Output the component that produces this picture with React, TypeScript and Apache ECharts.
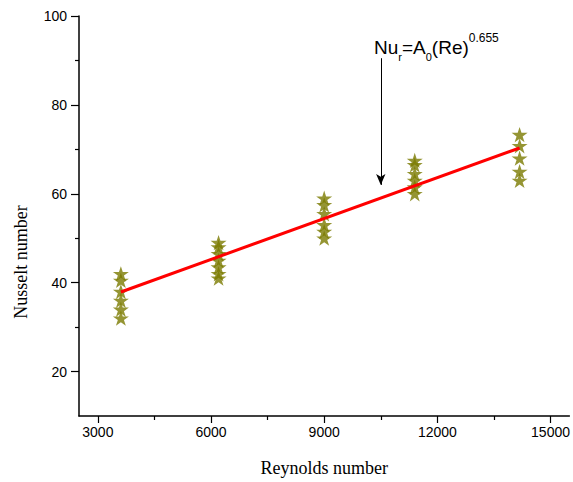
import React, { useEffect, useRef } from "react";
import * as echarts from "echarts";

// Reynolds number of each measurement group
const reynolds = [3610, 6200, 9000, 11400, 14180];

// Nusselt numbers measured at each Reynolds number
const nusseltGroups = [
  [42, 40.5, 38, 36, 34, 32],
  [49, 48, 46.5, 45, 43.5, 42, 41],
  [59, 57.5, 55.5, 53, 51.5, 50],
  [67.5, 66.5, 64.5, 63, 61.5, 60],
  [73.3, 70.8, 68, 65, 63],
];

// Correlation line end points
const fitLine: [number, number][] = [
  [3610, 37.9],
  [14180, 70.3],
];

// Arrow pointing from the correlation label to the line
const arrowFrom: [number, number] = [10500, 90.5];
const arrowTo: [number, number] = [10500, 62];

const xMajorTicks = [3000, 6000, 9000, 12000, 15000];
const xMinorTicks = [4500, 7500, 10500, 13500];
const yMajorTicks = [20, 40, 60, 80, 100];
const yMinorTicks = [30, 50, 70, 90];

const STAR =
  "path://M0,-100L22.5,-30.9L95.1,-30.9L36.3,11.8L58.8,80.9L0,38.2L-58.8,80.9L-36.3,11.8L-95.1,-30.9L-22.5,-30.9Z";

const sans = "'Liberation Sans', Arial, sans-serif";
const serif = "'Liberation Serif', 'Times New Roman', serif";

export default function App() {
  const ref = useRef<HTMLDivElement>(null);

  useEffect(() => {
    if (!ref.current) return;
    const chart = echarts.init(ref.current, undefined, { renderer: "svg" });

    const points: [number, number][] = [];
    reynolds.forEach((re, i) => {
      nusseltGroups[i].forEach((nu) => points.push([re, nu]));
    });

    const xRange = { min: 2500, max: 15500 };
    const yRange = { min: 10, max: 100 };
    const plain = (v: number) => String(v);

    chart.setOption({
      animation: false,
      backgroundColor: "#ffffff",
      grid: { left: 79, right: 2, top: 16, bottom: 65.5 },
      xAxis: [
        {
          type: "value",
          position: "bottom",
          ...xRange,
          name: "Reynolds number",
          nameLocation: "middle",
          nameGap: 43,
          nameTextStyle: { fontFamily: serif, fontSize: 18, color: "#000" },
          axisLine: { onZero: false, lineStyle: { color: "#000", width: 1.5 } },
          axisTick: { customValues: xMajorTicks, length: 7, lineStyle: { color: "#000", width: 1.2 } },
          axisLabel: {
            customValues: xMajorTicks,
            formatter: plain,
            margin: 9,
            fontFamily: sans,
            fontSize: 14,
            color: "#000",
          },
          splitLine: { show: false },
        },
        {
          type: "value",
          position: "bottom",
          ...xRange,
          axisLine: { show: false, onZero: false },
          axisTick: { customValues: xMinorTicks, length: 4, lineStyle: { color: "#000", width: 1.2 } },
          axisLabel: { show: false },
          splitLine: { show: false },
        },
      ],
      yAxis: [
        {
          type: "value",
          position: "left",
          ...yRange,
          axisLine: { show: true, onZero: false, lineStyle: { color: "#000", width: 1.5 } },
          axisTick: { show: true, customValues: yMajorTicks, length: 8, lineStyle: { color: "#000", width: 1.2 } },
          axisLabel: {
            customValues: yMajorTicks,
            formatter: plain,
            margin: 12,
            fontFamily: sans,
            fontSize: 14,
            color: "#000",
          },
          splitLine: { show: false },
        },
        {
          type: "value",
          position: "left",
          ...yRange,
          axisLine: { show: false, onZero: false },
          axisTick: { show: true, customValues: yMinorTicks, length: 4, lineStyle: { color: "#000", width: 1.2 } },
          axisLabel: { show: false },
          splitLine: { show: false },
        },
      ],
      graphic: [
        {
          type: "text",
          x: 21,
          y: 262,
          rotation: Math.PI / 2,
          style: {
            text: "Nusselt number",
            fontFamily: serif,
            fontSize: 18,
            fill: "#000",
            align: "center",
            verticalAlign: "middle",
          },
        },
        {
          type: "text",
          x: 374,
          y: 32,
          style: {
            text: "{m|Nu}{s|r}{m|=A}{s|0}{m|(Re)}{p|0.655}",
            rich: {
              m: { fontFamily: sans, fontSize: 19, lineHeight: 30, verticalAlign: "middle", fill: "#000" },
              s: { fontFamily: sans, fontSize: 11, lineHeight: 30, verticalAlign: "bottom", fill: "#000" },
              p: { fontFamily: sans, fontSize: 12, lineHeight: 24, verticalAlign: "top", fill: "#000" },
            },
          },
        },
      ],
      series: [
        {
          type: "line",
          data: fitLine,
          showSymbol: false,
          symbol: "none",
          lineStyle: { color: "#ff0000", width: 3 },
          z: 3,
          markLine: {
            silent: true,
            symbol: ["none", "arrow"],
            symbolSize: [7, 11],
            label: { show: false },
            lineStyle: { color: "#000", width: 1, type: "solid" },
            data: [[{ coord: arrowFrom }, { coord: arrowTo }]],
          },
        },
        {
          type: "scatter",
          data: points,
          symbol: STAR,
          symbolSize: 16,
          symbolKeepAspect: true,
          itemStyle: { color: "#7a7a00" },
          z: 2,
        },
      ],
    });

    return () => chart.dispose();
  }, []);

  return (
    <div
      ref={ref}
      style={{ position: "fixed", left: 0, top: 0, width: 573, height: 482, background: "#fff" }}
    />
  );
}
